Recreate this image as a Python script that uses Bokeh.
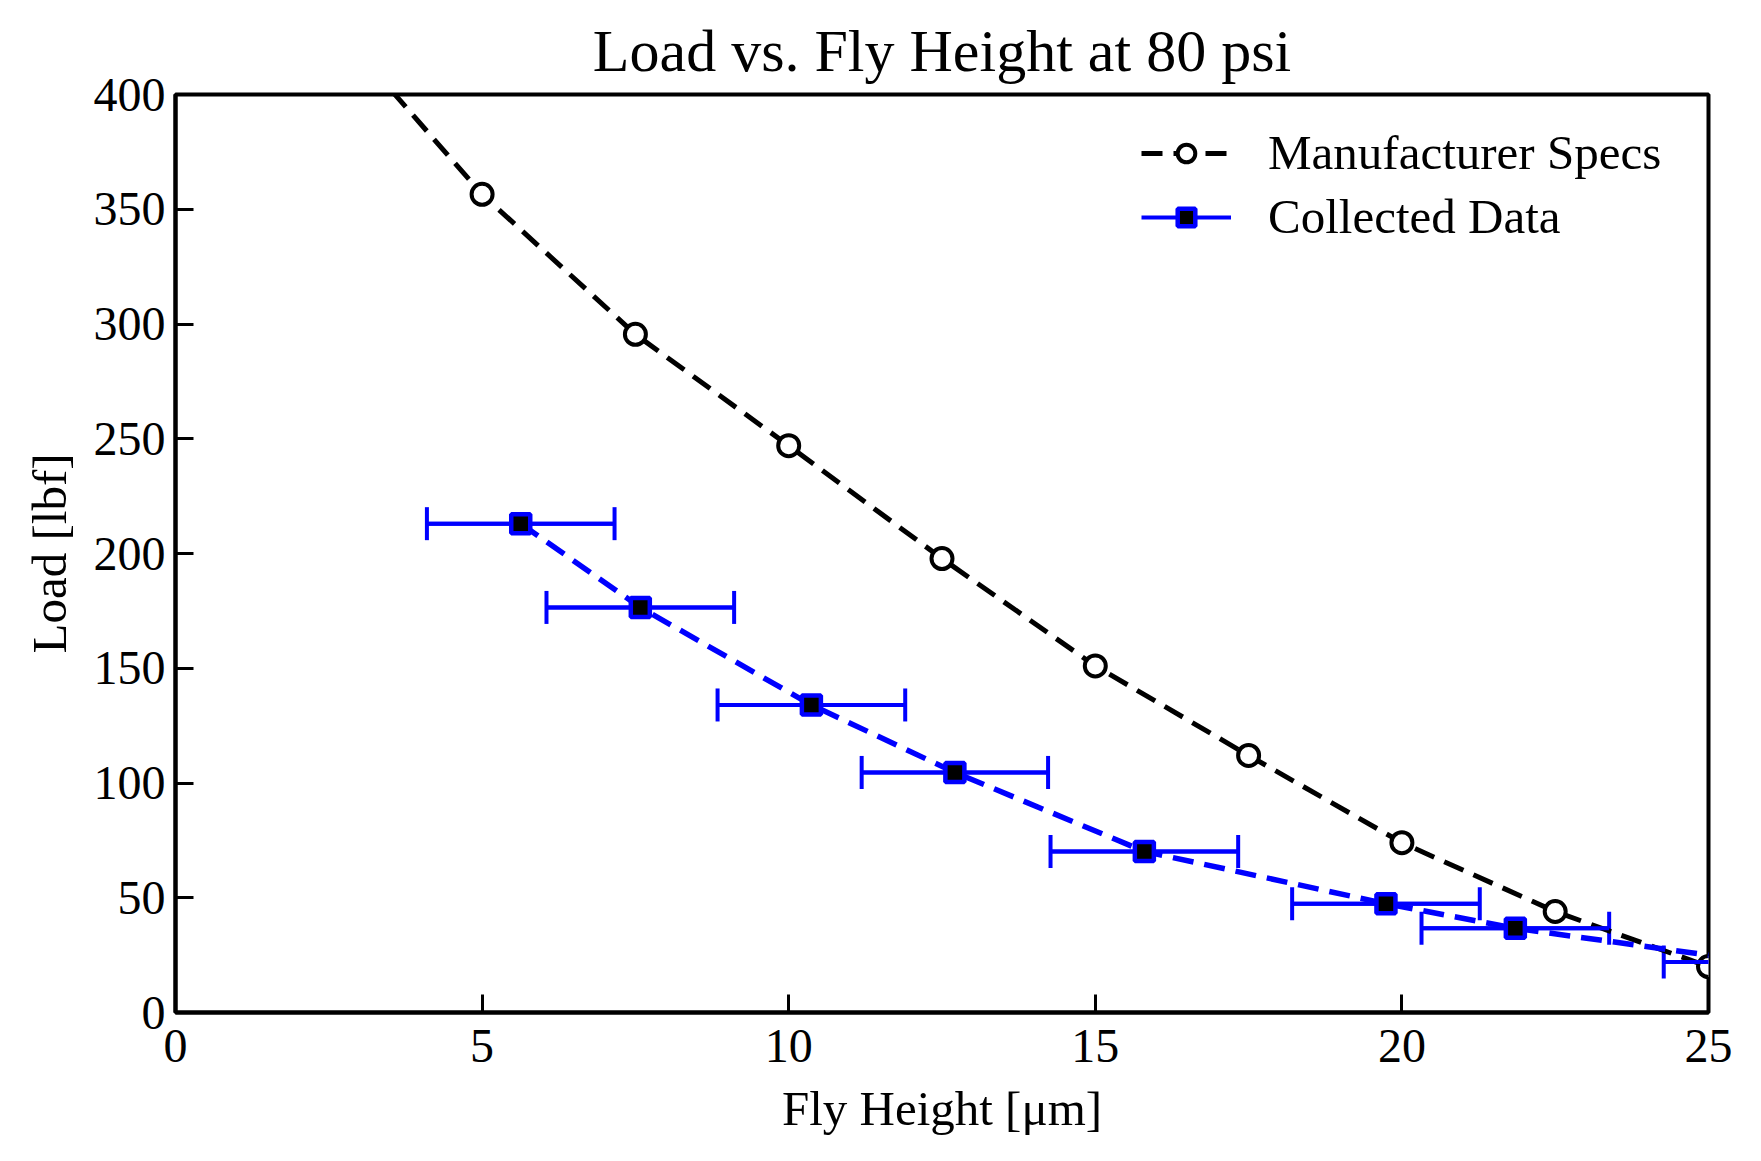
from bokeh.plotting import figure
from bokeh.models import (Range1d, SingleIntervalTicker, ColumnDataSource, Whisker,
                          TeeHead, Legend, LegendItem)
from bokeh.embed import file_html
from bokeh.resources import INLINE

# ---- data ----
spec_x = [2.5, 5.0, 7.5, 10.0, 12.5, 15.0, 17.5, 20.0, 22.5, 25.0]
spec_y = [433.0, 356.5, 295.5, 247.0, 197.8, 151.0, 112.0, 74.0, 44.0, 20.0]

data_x = [5.63, 7.58, 10.37, 12.71, 15.80, 19.74, 21.85, 25.80]
data_y = [213.0, 176.5, 134.0, 104.6, 70.2, 47.4, 36.7, 22.0]
data_xerr = [1.53, 1.53, 1.53, 1.52, 1.53, 1.53, 1.53, 1.53]

title_text = "Load vs. Fly Height at 80 psi"
x_label = "Fly Height [μm]"
y_label = "Load [lbf]"
spec_label = "Manufacturer Specs"
data_label = "Collected Data"

FONT = "Liberation Serif"
BLUE = "#0000ff"

p = figure(width=1745, height=1145, output_backend="svg", toolbar_location=None,
           x_range=Range1d(0, 25), y_range=Range1d(0, 400),
           min_border_left=175, min_border_right=37, min_border_top=94, min_border_bottom=133)

p.title.text = title_text
p.title.align = "center"
p.title.text_font = FONT
p.title.text_font_size = "60px"
p.title.text_font_style = "normal"
p.title.text_color = "black"
p.title.standoff = 22

p.grid.visible = False
p.background_fill_color = "white"
p.border_fill_color = "white"
p.outline_line_color = "black"
p.outline_line_width = 4

for ax in (p.xaxis[0], p.yaxis[0]):
    ax.axis_line_width = 4
    ax.axis_line_color = "black"
    ax.major_tick_in = 18
    ax.major_tick_out = 0
    ax.major_tick_line_width = 3
    ax.major_tick_line_color = "black"
    ax.minor_tick_line_color = None
    ax.major_label_text_font = FONT
    ax.major_label_text_font_size = "48px"
    ax.major_label_text_color = "black"
    ax.axis_label_text_font = FONT
    ax.axis_label_text_font_size = "49px"
    ax.axis_label_text_font_style = "normal"
    ax.axis_label_text_color = "black"

p.xaxis[0].ticker = SingleIntervalTicker(interval=5)
p.yaxis[0].ticker = SingleIntervalTicker(interval=50)
p.xaxis[0].axis_label = x_label
p.yaxis[0].axis_label = y_label
p.xaxis[0].major_label_standoff = 13
p.yaxis[0].major_label_standoff = 6
p.xaxis[0].axis_label_standoff = 16
p.yaxis[0].axis_label_standoff = 14

# Manufacturer specs
spec_line = p.line(spec_x, spec_y, line_color="black", line_width=5, line_dash="21 11")
spec_pts = p.scatter(spec_x, spec_y, marker="circle", size=21, fill_color="white",
                     line_color="black", line_width=4)

# Collected data
src = ColumnDataSource(dict(
    x=data_x, y=data_y,
    lo=[a - b for a, b in zip(data_x, data_xerr)],
    hi=[a + b for a, b in zip(data_x, data_xerr)],
))
data_line = p.line("x", "y", source=src, line_color=BLUE, line_width=5.5, line_dash="21 11")
err_seg = p.segment(x0="lo", y0="y", x1="hi", y1="y", source=src, line_color=BLUE, line_width=4)
wh = Whisker(source=src, base="y", lower="lo", upper="hi", dimension="width",
             line_color=BLUE, line_width=4,
             lower_head=TeeHead(size=33, line_color=BLUE, line_width=4),
             upper_head=TeeHead(size=33, line_color=BLUE, line_width=4))
p.add_layout(wh)
data_pts = p.scatter("x", "y", source=src, marker="square", size=19, fill_color="black",
                     line_color=BLUE, line_width=4.5)

legend = Legend(items=[
    LegendItem(label=spec_label, renderers=[spec_line, spec_pts]),
    LegendItem(label=data_label, renderers=[err_seg, data_pts]),
], location="top_right")
legend.border_line_color = None
legend.background_fill_alpha = 0
legend.label_text_font = FONT
legend.label_text_font_size = "49px"
legend.label_text_color = "black"
legend.glyph_width = 90
legend.glyph_height = 44
legend.label_height = 44
legend.label_width = 410
legend.label_standoff = 37
legend.spacing = 7
legend.margin = 30
legend.padding = 10
p.add_layout(legend)

open("out.html", "w").write(file_html(p, INLINE))
